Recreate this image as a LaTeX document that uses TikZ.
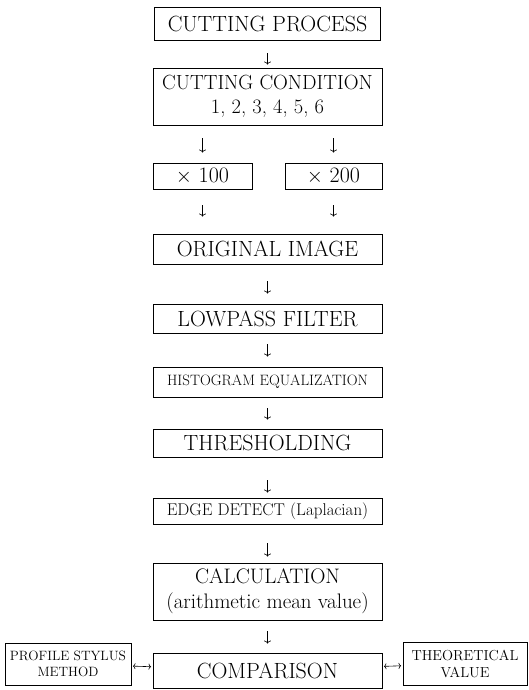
\documentclass[tikz,border=0pt]{standalone}
\usepackage{amsmath}
\usetikzlibrary{arrows.meta}

\begin{document}
\begin{tikzpicture}[x=1pt,y=-1pt,
		box/.style={draw, line width=0.9pt, inner sep=0pt, align=center, font=\fontsize{22}{25}\selectfont},
		flow/.style={-{To[width=7pt,length=3pt]}, line width=0.6pt},
		link/.style={{To[width=6pt,length=2.5pt]}-{To[width=6pt,length=2.5pt]}, line width=0.6pt, shorten <=1.5pt, shorten >=1.5pt}]
			\useasboundingbox (0,0) rectangle (528,690);
			\node[box, minimum width=226, minimum height=33] (proc) at (267.5,23.5) {CUTTING PROCESS}; % Box 1
			\node[box, minimum width=229, minimum height=57, font=\fontsize{20.5}{24}\selectfont] (cond) at (267.5,96.5) {CUTTING CONDITION\\1,\ 2,\ 3,\ 4,\ 5,\ 6}; % Box 2
			\node[box, minimum width=99, minimum height=26] (magA) at (202.5,176) {$\times$ 100}; % Magnification A
			\node[box, minimum width=97, minimum height=26] (magB) at (333.5,176) {$\times$ 200}; % Magnification B
			\node[box, minimum width=229, minimum height=30] (orig) at (267.5,249) {ORIGINAL IMAGE};
			\node[box, minimum width=229, minimum height=29] (low) at (267.5,318.5) {LOWPASS FILTER};
			\node[box, minimum width=229, minimum height=30, font=\fontsize{15}{17}\selectfont] (hist) at (267.5,382) {HISTOGRAM EQUALIZATION};
			\node[box, minimum width=229, minimum height=28] (thresh) at (267.5,443) {THRESHOLDING};
			\node[box, minimum width=229, minimum height=26, font=\fontsize{17}{19}\selectfont] (edge) at (267.5,511) {EDGE DETECT\ (Laplacian)};
			\node[box, minimum width=229, minimum height=57, font=\fontsize{21}{25}\selectfont] (calc) at (267.5,591.5) {CALCULATION\\(arithmetic mean value)};
			\node[box, minimum width=229, minimum height=35] (comp) at (267.5,670.5) {COMPARISON};
			\node[box, minimum width=126, minimum height=42, font=\fontsize{13.5}{16}\selectfont] (prof) at (68,664) {PROFILE STYLUS\\METHOD}; % Left box
			\node[box, minimum width=124, minimum height=43, font=\fontsize{14.5}{17}\selectfont] (theo) at (465,663.5) {THEORETICAL\\VALUE}; % Right box
			\draw[flow, shorten <=13pt, shorten >=3pt] (proc) -- (cond);
			\draw[flow, shorten <=13pt, shorten >=10pt] (cond.south -| magA) -- (magA);
			\draw[flow, shorten <=13pt, shorten >=10pt] (cond.south -| magB) -- (magB);
			\draw[flow, shorten <=16pt, shorten >=17pt] (magA) -- (magA |- orig.north);
			\draw[flow, shorten <=16pt, shorten >=17pt] (magB) -- (magB |- orig.north);
			\draw[flow, shorten <=17pt, shorten >=10pt] (orig) -- (low);
			\draw[flow, shorten <=11pt, shorten >=10pt] (low) -- (hist);
			\draw[flow, shorten <=11pt, shorten >=9pt] (hist) -- (thresh);
			\draw[flow, shorten <=23pt, shorten >=5pt] (thresh) -- (edge);
			\draw[flow, shorten <=19pt, shorten >=6pt] (edge) -- (calc);
			\draw[flow, shorten <=11pt, shorten >=9pt] (calc) -- (comp);
			\draw[link] (prof) -- (comp); % Left double arrow
			\draw[link] (comp) -- (theo); % Right double arrow
		\end{tikzpicture}
\end{document}
